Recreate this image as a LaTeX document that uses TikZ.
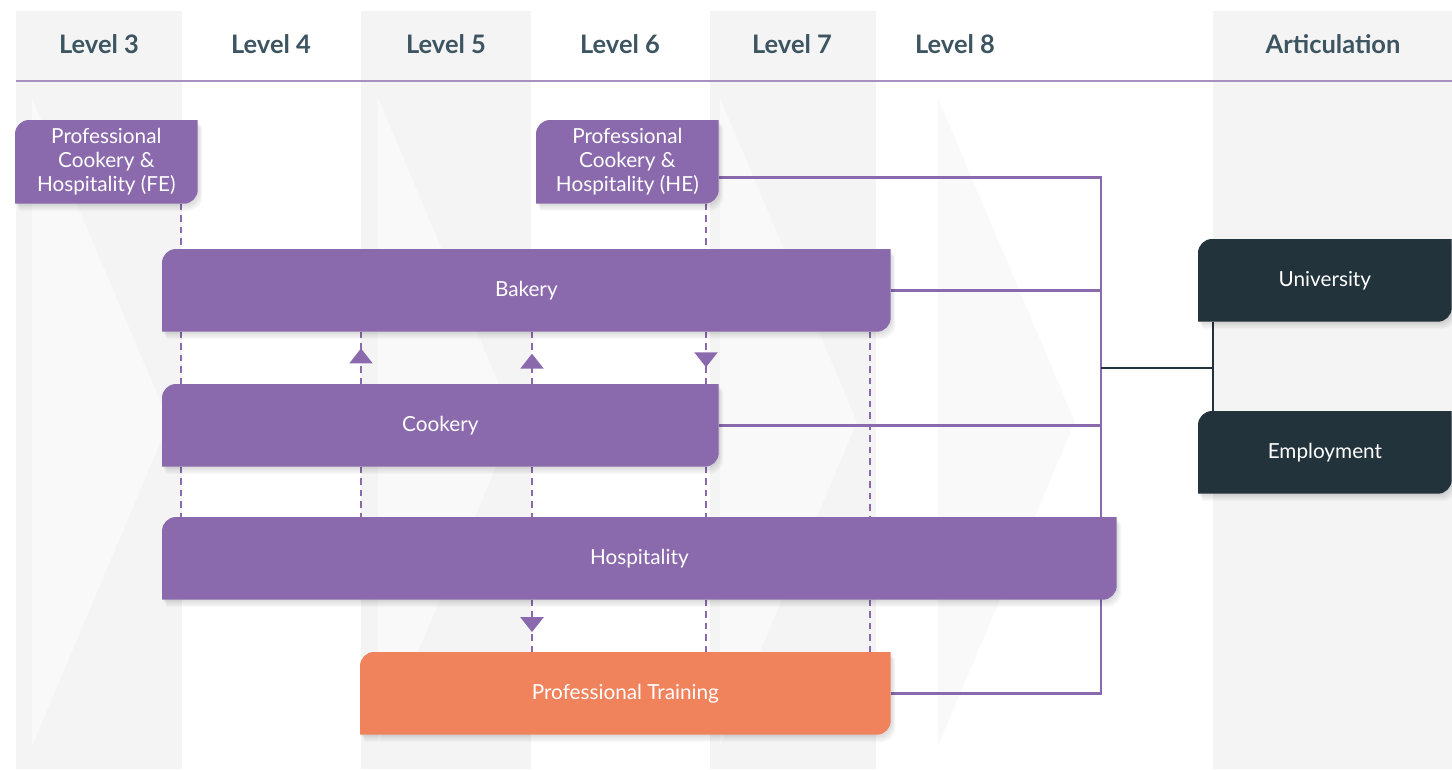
\documentclass[tikz,border=0pt]{standalone}
\usepackage{fontspec}
\setmainfont{Lato}
\usetikzlibrary{calc,arrows.meta,decorations.markings}

\definecolor{purp}{HTML}{8A6AAC}
\definecolor{orng}{HTML}{F0825C}
\definecolor{slate}{HTML}{22333B}
\definecolor{colbg}{HTML}{F4F4F4}
\definecolor{chev}{HTML}{F9F9F9}
\definecolor{headtxt}{HTML}{3D5561}

\pgfdeclarelayer{bg}
\pgfdeclarelayer{lines}
\pgfdeclarelayer{fills}
\pgfsetlayers{bg,lines,fills,main}

% box outline: rounded top left and bottom right only
\newcommand\cutpath[1]{(#1.south west)
  -- ($(#1.north west)+(0,-0.28cm)$) arc[start angle=180, end angle=90, radius=0.28cm]
  -- (#1.north east)
  -- ($(#1.south east)+(0,0.28cm)$) arc[start angle=0, end angle=-90, radius=0.28cm]
  -- cycle}

\tikzset{
  lvl/.style={font=\bfseries\fontsize{14.5}{17}\selectfont, text=headtxt},
  box/.style={inner sep=0pt, anchor=north west, text=white, align=center,
    font=\fontsize{11.8}{13.6}\selectfont},
  wh/.style 2 args={minimum width=#1*0.02cm, minimum height=#2*0.02cm},
  hdline/.style={draw=purp!75, line width=0.7pt},
  link/.style={draw=purp, line width=1.4pt},
  darklink/.style={draw=slate, line width=1.4pt},
  dashline/.style={draw=purp, line width=1.3pt, dash pattern=on 0.13cm off 0.1cm},
  midtip/.style={postaction={decorate, decoration={markings,
      mark=at position #1 with {\arrow{Triangle[width=0.46cm,length=0.3cm]}}}}},
}

\begin{document}
\begin{tikzpicture}[x=0.02cm, y=-0.02cm]
  \useasboundingbox (0,0) rectangle (1452,769);

  % shaded level columns and the faint chevrons
  \begin{pgfonlayer}{bg}
    \foreach \a/\b in {16/182, 361/531, 710/876, 1213/1452}
      \fill[colbg] (\a,11) rectangle (\b,769);
    \foreach \a in {32, 378, 720, 938}
      \fill[chev] (\a,98) -- (\a+137,422) -- (\a,746) -- cycle;
    \draw[hdline] (16,81) -- (1452,81);
  \end{pgfonlayer}

  % header
  \foreach \x/\n/\t in {99/l3/Level 3, 271/l4/Level 4, 446/l5/Level 5,
      620/l6/Level 6, 792/l7/Level 7, 955/l8/Level 8, 1333/art/Articulation}
    \node[lvl] (\n) at (\x,44) {\t};

  % qualifications
  \node[box, wh={182}{83}] (fe) at (15,120) {Professional\\Cookery \&\\Hospitality (FE)};
  \node[box, wh={182}{83}] (he) at (536,120) {Professional\\Cookery \&\\Hospitality (HE)};
  \node[box, wh={728}{82}] (bak) at (162,249) {Bakery};
  \node[box, wh={556}{82}] (coo) at (162,384) {Cookery};
  \node[box, wh={954}{82}] (hos) at (162,517) {Hospitality};
  \node[box, wh={530}{82}] (pt) at (360,652) {Professional Training};
  \node[box, wh={253}{82}] (uni) at (1198,239) {University};
  \node[box, wh={253}{82}] (emp) at (1198,411) {Employment};

  \begin{pgfonlayer}{fills}
    \foreach \n/\c in {fe/purp, he/purp, bak/purp, coo/purp, hos/purp,
        pt/orng, uni/slate, emp/slate} {
      \foreach \s in {1,...,6}
        \fill[black, opacity=0.022,
          transform canvas={shift={(\s*0.45pt,-\s*0.7pt)}}] \cutpath{\n};
      \fill[\c] \cutpath{\n};
    }
  \end{pgfonlayer}

  \coordinate (d1) at (181,0);
  \coordinate (d2) at (361,0);
  \coordinate (d3) at (532,0);
  \coordinate (d4) at (706,0);
  \coordinate (d5) at (870,0);
  \coordinate (bus) at (1101,0);
  \coordinate (hub) at (1101,368);
  \coordinate (artic) at (1213,368);

  \begin{pgfonlayer}{lines}
    % progression routes
    \foreach \x/\a/\b in {d1/fe/bak, d1/bak/coo, d1/coo/hos, d2/coo/hos, d3/coo/hos,
        d4/he/bak, d4/coo/hos, d4/hos/pt, d5/bak/hos, d5/hos/pt}
      \draw[dashline] (\a.south -| \x) -- (\b.north -| \x);
    \draw[dashline, midtip=0.68] (coo.north -| d2) -- (bak.south -| d2);
    \draw[dashline, midtip=0.58] (coo.north -| d3) -- (bak.south -| d3);
    \draw[dashline, midtip=0.68] (bak.south -| d4) -- (coo.north -| d4);
    \draw[dashline, midtip=0.62] (hos.south -| d3) -- (pt.north -| d3);
    % articulation
    \draw[link] ($(he.east)+(0,15.5)$) -| (pt.east -| bus) -- (pt.east);
    \draw[link] (bak.east) -- (bak.east -| bus);
    \draw[link] (coo.east) -- (coo.east -| bus);
    \draw[darklink] (hub) -- (artic);
    \draw[darklink] (uni.south -| artic) -- (emp.north -| artic);
  \end{pgfonlayer}
\end{tikzpicture}
\end{document}
